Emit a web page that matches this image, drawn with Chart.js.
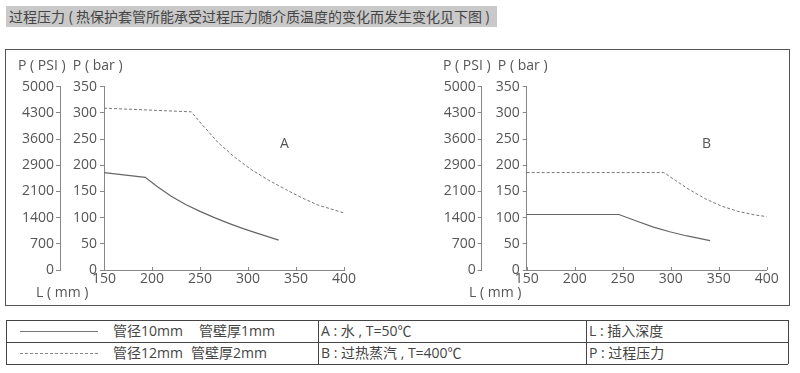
<!DOCTYPE html>
<html>
<head>
<meta charset="utf-8">
<script src="https://cdn.jsdelivr.net/npm/chart.js@4.4.1/dist/chart.umd.min.js"></script>
<style>
  body { margin: 0; width: 800px; height: 373px; background: #fff; position: relative; overflow: hidden;
         font-family: "Open Sans", "Noto Sans CJK SC", sans-serif; color: #555; }
  .abs { position: absolute; white-space: nowrap; }
  #title { left: 6px; top: 6px; width: 488px; height: 21px; line-height: 21px; padding-left: 3px;
           background: #c9c9c9; color: #444; font-size: 14px; font-family: "Noto Sans CJK SC", sans-serif; }
  #box { left: 5px; top: 49px; width: 783px; height: 255px; border: 1.5px solid #555; }
  .lbl { font-size: 14px; line-height: 16px; color: #555; }
  .cv { position: absolute; top: 40px; width: 400px; height: 270px; }
  .tb { font-size: 14px; line-height: 22px; color: #444; }
  .hl { position: absolute; height: 0; border-top: 1.5px solid #444; }
  .vl { position: absolute; width: 0; border-left: 1.5px solid #444; }
</style>
</head>
<body>
<div id="title" class="abs">过程压力 ( 热保护套管所能承受过程压力随介质温度的变化而发生变化见下图 )</div>
<div id="box" class="abs"></div>

<div class="cv" style="left:0"><canvas id="chartA"></canvas></div>
<div class="cv" style="left:400px"><canvas id="chartB"></canvas></div>

<div class="abs lbl" style="left:18px;top:57px">P ( PSI ) &nbsp;P ( bar )</div>
<div class="abs lbl" style="left:36px;top:284px">L ( mm )</div>
<div class="abs lbl" style="left:443px;top:57px">P ( PSI ) &nbsp;P ( bar )</div>
<div class="abs lbl" style="left:469px;top:284px">L ( mm )</div>
<div class="abs lbl" style="left:280px;top:135px">A</div>
<div class="abs lbl" style="left:702px;top:135px">B</div>

<!-- legend table -->
<div class="hl" style="left:6px;top:320px;width:782px"></div>
<div class="hl" style="left:6px;top:342px;width:782px"></div>
<div class="hl" style="left:6px;top:364px;width:782px"></div>
<div class="vl" style="left:6px;top:320px;height:44px"></div>
<div class="vl" style="left:318px;top:320px;height:44px"></div>
<div class="vl" style="left:586px;top:320px;height:44px"></div>
<div class="vl" style="left:788px;top:320px;height:44px"></div>

<div class="abs" style="left:20px;top:331px;width:78px;border-top:1px solid #777"></div>
<div class="abs" style="left:20px;top:353px;width:78px;border-top:1px dashed #888"></div>
<div class="abs tb" style="left:113px;top:320px">管径10mm</div>
<div class="abs tb" style="left:199px;top:320px">管壁厚1mm</div>
<div class="abs tb" style="left:113px;top:342px">管径12mm</div>
<div class="abs tb" style="left:191px;top:342px">管壁厚2mm</div>
<div class="abs tb" style="left:321px;top:320px">A : 水 , T=50℃</div>
<div class="abs tb" style="left:321px;top:342px">B : 过热蒸汽 , T=400℃</div>
<div class="abs tb" style="left:589px;top:320px">L : 插入深度</div>
<div class="abs tb" style="left:589px;top:342px">P : 过程压力</div>

<script>
// insertion length L (mm) on x, pressure in bar on y
const xTicks = [150, 200, 250, 300, 350, 400];
const psiLabels = ["0", "700", "1400", "2100", "2900", "3600", "4300", "5000"];

// chart A: water, T=50C
const aSolidX = [150, 193, 205, 220, 235, 250, 265, 280, 295, 310, 332];
const aSolidY = [186, 177, 160, 141, 125, 112, 100, 89, 79, 70, 57];
const aDashX = [150, 241, 252, 269, 287, 304, 321, 339, 356, 373, 400];
const aDashY = [309, 302, 278, 243, 214, 191, 172, 154, 138, 124, 109];

// chart B: superheated steam, T=400C
const bSolidX = [150, 246, 265, 282, 299, 317, 341];
const bSolidY = [106, 106, 93, 82, 73, 65, 56];
const bDashX = [150, 293, 305, 318, 336, 353, 370, 388, 400];
const bDashY = [186, 186, 171, 155, 136, 122, 112, 105, 102];

const toPts = (xs, ys) => xs.map((x, i) => ({ x: x, y: ys[i] }));
const font = { family: "Open Sans", size: 14 };
const axisColor = "#888";

// small upward tick marks on the L axis, like the original
const upTicks = {
  id: "upTicks",
  afterDraw(chart) {
    const sx = chart.scales.x;
    const c = chart.ctx;
    c.save();
    c.strokeStyle = axisColor;
    c.lineWidth = 1;
    xTicks.forEach((v) => {
      const px = Math.round(sx.getPixelForValue(v)) + 0.5;
      c.beginPath();
      c.moveTo(px, sx.top);
      c.lineTo(px, sx.top - 3);
      c.stroke();
    });
    c.restore();
  },
};

function makeChart(id, sx, sy, dx, dy, psiWidth, barWidth, padRight) {
  return new Chart(document.getElementById(id), {
    type: "line",
    data: {
      datasets: [
        {
          data: toPts(sx, sy),
          borderColor: "#666",
          borderWidth: 1.2,
          pointRadius: 0,
          tension: 0,
          fill: false,
        },
        {
          data: toPts(dx, dy),
          borderColor: "#777",
          borderWidth: 1,
          borderDash: [3, 2],
          pointRadius: 0,
          tension: 0,
          fill: false,
        },
      ],
    },
    options: {
      responsive: true,
      maintainAspectRatio: false,
      animation: false,
      layout: { padding: { top: 46.7, right: padRight, bottom: 0, left: 0 } },
      plugins: { legend: { display: false }, tooltip: { enabled: false } },
      scales: {
        x: {
          type: "linear",
          min: 150,
          max: 400,
          afterBuildTicks: (s) => { s.ticks = xTicks.map((v) => ({ value: v })); },
          afterFit: (s) => { s.height = 40; },
          grid: { drawOnChartArea: false, drawTicks: false, tickLength: 0 },
          border: { color: axisColor, width: 1 },
          ticks: { color: "#555", font: font, padding: 1, maxRotation: 0 },
        },
        y: {
          position: "left",
          weight: 0,
          min: 0,
          max: 350,
          afterFit: (s) => { s.width = barWidth; },
          grid: { drawOnChartArea: false, tickLength: 4, color: axisColor },
          border: { color: axisColor, width: 1 },
          ticks: { stepSize: 50, color: "#555", font: font, padding: 3 },
        },
        psi: {
          position: "left",
          weight: 1,
          min: 0,
          max: 350,
          afterFit: (s) => { s.width = psiWidth; },
          grid: { drawOnChartArea: false, tickLength: 4, color: axisColor },
          border: { color: axisColor, width: 1 },
          ticks: {
            stepSize: 50,
            color: "#555",
            font: font,
            padding: 2,
            callback: (v, i) => psiLabels[i],
          },
        },
      },
    },
    plugins: [upTicks],
  });
}

makeChart("chartA", aSolidX, aSolidY, aDashX, aDashY, 60, 44, 56);
makeChart("chartB", bSolidX, bSolidY, bDashX, bDashY, 81.7, 45, 33.3);
</script>
</body>
</html>
